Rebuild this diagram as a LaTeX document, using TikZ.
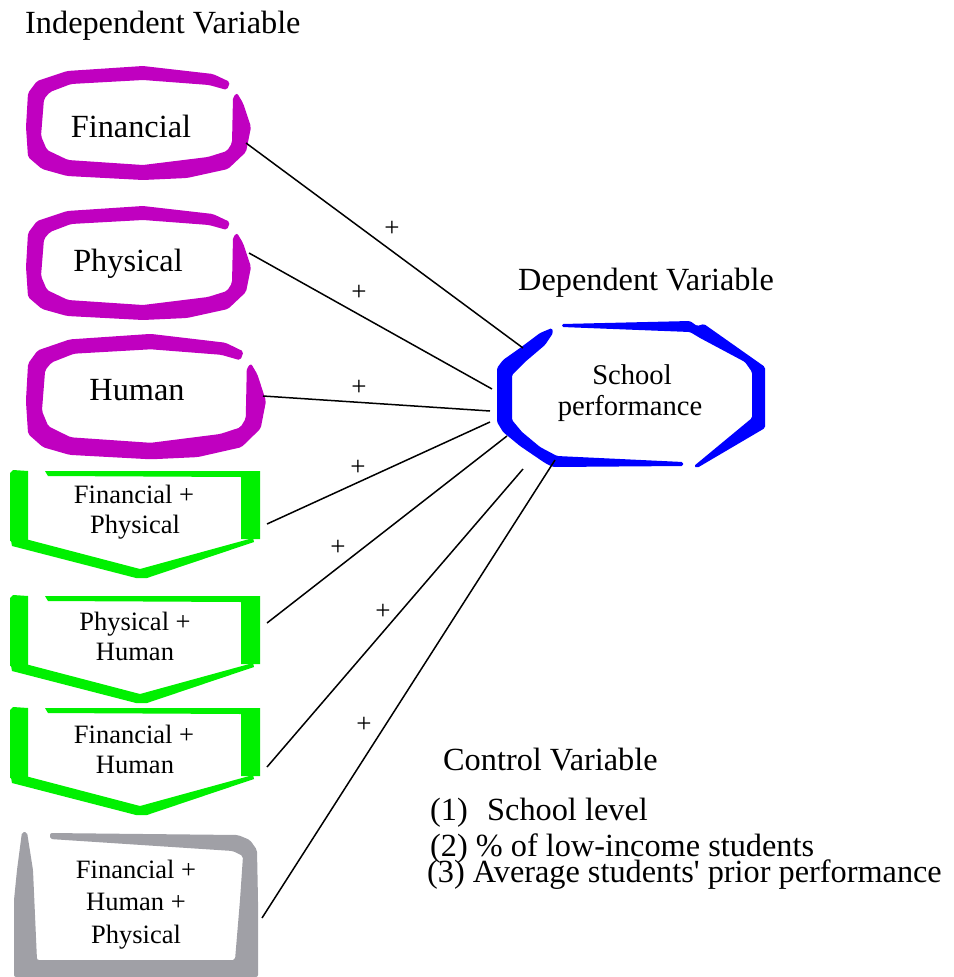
\documentclass[tikz,border=0pt]{standalone}
\usepackage{fontspec}
\setmainfont{Liberation Serif}
\definecolor{purp}{RGB}{192,0,192}
\definecolor{grn}{RGB}{0,240,0}
\definecolor{blu}{RGB}{0,0,255}
\definecolor{gry}{RGB}{160,160,166}
\newcommand\bigfont{\fontsize{32.3}{36}\selectfont}
\newcommand\midfont{\fontsize{26.5}{30}\selectfont}
\newcommand\schfont{\fontsize{28.6}{32}\selectfont}
\newcommand\plusfont{\fontsize{27}{29}\selectfont}
\newcommand\purpshape{%
  \fill[purp,rounded corners=2pt] (230,82) -- (213,74) -- (143,66) -- (67,71) -- (37,81) -- (28,93) -- (26,127) -- (28,157) -- (42,169) -- (67,176) -- (143,180) -- (187,178) -- (228,169) -- (246,152) -- (251,127) -- (243,103) -- (237,93)
   -- (233,97) -- (232,143) -- (227,151) -- (208,157) -- (143,165) -- (68,160) -- (47,150) -- (41,136) -- (44,99) -- (50,92) -- (71,84) -- (143,80) -- (209,85) -- (227,90) -- cycle;}
\newcommand\grnshape{%
  \fill[grn] (10,473) -- (13,470) -- (28,471) -- (28,541) -- (10,541) -- cycle;
  \fill[grn] (45,471) -- (260,471) -- (260,539) -- (241,539) -- (241,477) -- (48,476) -- cycle;
  \fill[grn] (10,535) -- (140,569) -- (253,538) -- (254,542) -- (147,578) -- (136,578) -- (12,546) -- cycle;}
\tikzset{
  txt/.style={inner sep=0pt, font=\bigfont},
  boxtxt/.style={inner sep=0pt, font=\midfont, align=center},
  schtxt/.style={inner sep=0pt, font=\schfont},
  plus/.style={inner sep=0pt, font=\plusfont},
  conn/.style={line width=1.5pt, black}
}
\begin{document}
\begin{tikzpicture}[x=1pt,y=-1pt]
\useasboundingbox (0,0) rectangle (953,977);
% purple shapes
\purpshape
\begin{scope}[shift={(0,140)}]\purpshape\end{scope}
\begin{scope}[shift={(27,335)},xscale=1.067,yscale=1.1,shift={(-27,-67)}]\purpshape\end{scope}
% green shapes
\grnshape
\begin{scope}[shift={(0,125)}]\grnshape\end{scope}
\begin{scope}[shift={(0,237)}]\grnshape\end{scope}
% gray shape
\fill[gry,rounded corners=2pt] (50,833) -- (238,835) -- (250,840) -- (257,850) -- (258,900) -- (258,977) -- (14,977) -- (14,900) -- (17,870) -- (22,832)
  -- (27,832) -- (33,870) -- (37,960) -- (235,960) -- (240,900) -- (243,856) -- (233,851) -- (50,839) -- cycle;
% blue octagon
\fill[blu,rounded corners=1.5pt] (552,328) -- (540,333) -- (520,348) -- (503,360) -- (497,368) -- (497,422) -- (503,432) -- (520,446) -- (545,463) -- (553,467) -- (683,466) -- (683,462)
  -- (557,456) -- (540,447) -- (522,432) -- (512,420) -- (512,375) -- (525,362) -- (545,345) -- (553,333) -- cycle;
\fill[blu,rounded corners=1.5pt] (562,324) -- (690,321) -- (697,326) -- (704,324) -- (765,367) -- (765,428) -- (697,468) -- (694,466) -- (752,418) -- (752,372) -- (745,362) -- (700,338) -- (690,332) -- (562,327) -- cycle;
% titles
\node[txt,anchor=base west] (indep) at (25,33) {Independent Variable};
\node[txt,anchor=base west] (dep) at (518,290) {Dependent Variable};
\node[txt,anchor=base west] (ctrl) at (443,770) {Control Variable};
\node[txt,anchor=base west] (c1) at (430,820) {(1)\hspace{0.6em}School level};
\node[txt,anchor=base west] (c2) at (430,856) {(2) \% of low-income students};
\node[txt,anchor=base west] (c3) at (427,882) {(3) Average students\textquotesingle{} prior performance};
% box texts
\node[txt,anchor=base] (fin) at (131,137) {Financial};
\node[txt,anchor=base] (phy) at (128,271) {Physical};
\node[txt,anchor=base] (hum) at (137,400) {Human};
\node[boxtxt,anchor=base] (fp1) at (134,503) {Financial +};
\node[boxtxt,anchor=base] (fp2) at (135,533) {Physical};
\node[boxtxt,anchor=base] (ph1) at (135,630) {Physical +};
\node[boxtxt,anchor=base] (ph2) at (135,660) {Human};
\node[boxtxt,anchor=base] (fh1) at (134,743) {Financial +};
\node[boxtxt,anchor=base] (fh2) at (135,773) {Human};
\node[boxtxt,anchor=base] (a1) at (136,878) {Financial +};
\node[boxtxt,anchor=base] (a2) at (136,910) {Human +};
\node[boxtxt,anchor=base] (a3) at (136,943) {Physical};
\node[schtxt,anchor=base] (sch1) at (632,384) {School};
\node[schtxt,anchor=base] (sch2) at (630,415) {performance};
% connector end points
\coordinate (s1) at (246,143); \coordinate (e1) at (523,348);
\coordinate (s2) at (249,253); \coordinate (e2) at (492,389);
\coordinate (s3) at (263,396); \coordinate (e3) at (490,411);
\coordinate (s4) at (267,524); \coordinate (e4) at (490,422);
\coordinate (s5) at (267,623); \coordinate (e5) at (507,436);
\coordinate (s6) at (267,767); \coordinate (e6) at (523,469);
\coordinate (s7) at (262,918); \coordinate (e7) at (555,460);
\foreach \i in {1,...,7} {\draw[conn] (s\i) -- (e\i);}
% plus labels
\node[plus] (p1) at (392,229) {+};
\node[plus] (p2) at (359,293) {+};
\node[plus] (p3) at (359,388) {+};
\node[plus] (p4) at (358,468) {+};
\node[plus] (p5) at (338,548) {+};
\node[plus] (p6) at (383,612) {+};
\node[plus] (p7) at (364,725) {+};
\end{tikzpicture}
\end{document}
